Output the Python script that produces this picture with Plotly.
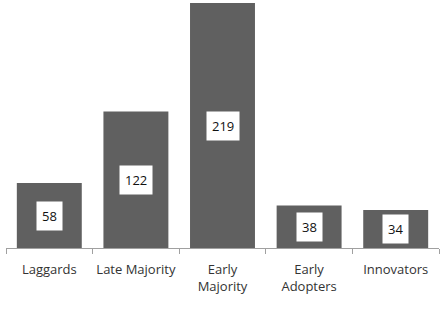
import plotly.graph_objects as go

categories = ["Laggards", "Late Majority", "Early<br>Majority", "Early<br>Adopters", "Innovators"]
values = [58, 122, 219, 38, 34]

fig = go.Figure(go.Bar(x=categories, y=values, marker=dict(color="#606060", line=dict(width=0)),
                       hoverinfo="skip"))

for c, v in zip(categories, values):
    fig.add_annotation(x=c, y=v / 2, text=str(v), showarrow=False, bgcolor="white",
                       borderpad=5, font=dict(family="Open Sans", size=13, color="#111111"))

fig.update_layout(
    width=445, height=312,
    margin=dict(l=6, r=6, t=3, b=64),
    paper_bgcolor="white", plot_bgcolor="white",
    bargap=0.25, showlegend=False,
    xaxis=dict(showline=True, linecolor="#a0a0a0", linewidth=1, ticks="outside", tickson="boundaries",
               ticklen=5, tickcolor="#a0a0a0", tickangle=0, ticklabelstandoff=9,
               tickfont=dict(family="Open Sans", size=13, color="#333333")),
    yaxis=dict(range=[0, 219], visible=False, showgrid=False),
)
fig.write_html("out.html")
